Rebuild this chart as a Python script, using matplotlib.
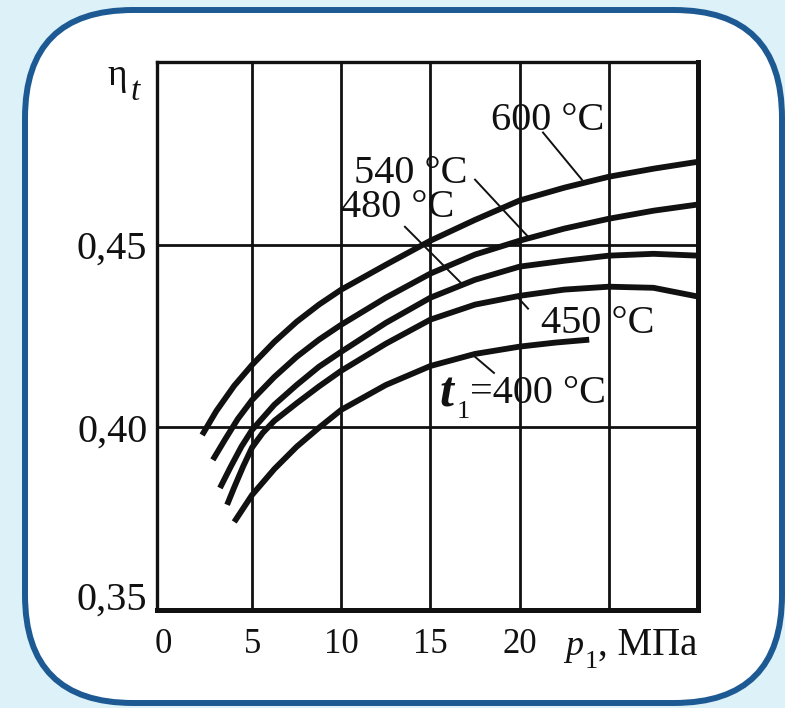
import matplotlib.pyplot as plt
from matplotlib.patches import FancyBboxPatch

plt.rcParams['font.family'] = ['Liberation Serif', 'DejaVu Serif']

# thermal efficiency vs initial pressure
p_600 = [2.2, 3, 4, 5, 6.25, 7.5, 8.75, 10, 12.5, 15, 17.5, 20, 22.5, 25,
         27.5, 30]
eta_600 = [0.3979, 0.4045, 0.4114, 0.4171, 0.4234, 0.4289, 0.4336, 0.4377,
           0.4445, 0.4511, 0.4568, 0.4621, 0.4656, 0.4686, 0.4708, 0.4727]

p_540 = [2.8, 3.5, 4.2, 5, 6.25, 7.5, 8.75, 10, 12.5, 15, 17.5, 20, 22.5, 25,
         27.5, 30]
eta_540 = [0.3911, 0.3968, 0.4023, 0.4075, 0.4138, 0.4193, 0.4240, 0.4281,
           0.4355, 0.4421, 0.4473, 0.4511, 0.4544, 0.4571, 0.4593, 0.4610]

p_480 = [3.2, 3.8, 4.4, 5, 6.25, 7.5, 8.75, 10, 12.5, 15, 17.5, 20, 22.5, 25,
         27.5, 30]
eta_480 = [0.3834, 0.3892, 0.3947, 0.3993, 0.4062, 0.4116, 0.4166, 0.4207,
           0.4286, 0.4355, 0.4404, 0.4440, 0.4456, 0.4470, 0.4475, 0.4470]

p_450 = [3.6, 4.0, 4.5, 5, 5.6, 6.25, 7.5, 8.75, 10, 12.5, 15, 17.5, 20,
         22.5, 25, 27.5, 30]
eta_450 = [0.3788, 0.3836, 0.3893, 0.3945, 0.3985, 0.4018, 0.4066, 0.4112,
           0.4155, 0.4229, 0.4295, 0.4336, 0.4360, 0.4377, 0.4385, 0.4382,
           0.4358]

p_400 = [4.0, 5, 6.25, 7.5, 8.75, 10, 12.5, 15, 17.5, 20, 22, 23.9]
eta_400 = [0.3741, 0.3815, 0.3886, 0.3947, 0.3999, 0.4048, 0.4116, 0.4168,
           0.4201, 0.4221, 0.4232, 0.4240]

x_ticks = [0, 5, 10, 15, 20]
y_ticks = [0.35, 0.40, 0.45]
y_labels = ['0,35', '0,40', '0,45']
x_grid = [5, 10, 15, 20, 25]
y_grid = [0.40, 0.45]

BG = '#dcf1f8'
FRAME = '#1d5a93'
INK = '#111111'

fig = plt.figure(figsize=(7.85, 7.08), dpi=100, facecolor=BG)

# white rounded panel behind the chart
panel = FancyBboxPatch((0.25, 0.05), 7.57, 6.93,
                       boxstyle='round,pad=0,rounding_size=1.08',
                       transform=fig.dpi_scale_trans,
                       facecolor='white', edgecolor=FRAME, linewidth=4.3,
                       zorder=-1)
fig.add_artist(panel)

ax = fig.add_axes([0.200, 0.1384, 0.6892, 0.7740])
ax.set_xlim(-0.33, 30)
ax.set_ylim(0.35, 0.50)

for xv in x_grid:
    ax.axvline(xv, color=INK, lw=2.0, zorder=1)
for yv in y_grid:
    ax.axhline(yv, color=INK, lw=2.0, zorder=1)

for p, eta in [(p_600, eta_600), (p_540, eta_540), (p_480, eta_480),
               (p_450, eta_450), (p_400, eta_400)]:
    ax.plot(p, eta, color=INK, lw=4.2, solid_capstyle='butt',
            solid_joinstyle='round', zorder=3)

for s in ('left', 'top'):
    ax.spines[s].set_linewidth(2.4)
for s in ('right', 'bottom'):
    ax.spines[s].set_linewidth(3.6)
for s in ax.spines.values():
    s.set_color(INK)

ax.set_xticks(x_ticks)
ax.set_xticklabels([str(v) for v in x_ticks])
ax.set_yticks(y_ticks)
ax.set_yticklabels(y_labels)
ax.tick_params(axis='x', length=0, pad=13, labelsize=25, colors=INK)
ax.tick_params(axis='y', length=0, pad=7, labelsize=29, colors=INK)
ax.get_yticklabels()[0].set_verticalalignment('baseline')

# curve labels with leader lines
lab = dict(fontsize=29, color=INK, zorder=4)
ax.text(21.59, 0.4815, '600 °C', ha='center', va='baseline', **lab)
ax.text(13.91, 0.4670, '540 °C', ha='center', va='baseline', **lab)
ax.text(13.18, 0.4577, '480 °C', ha='center', va='baseline', **lab)
ax.text(24.39, 0.4259, '450 °C', ha='center', va='baseline', **lab)
ax.text(15.50, 0.4056, 't', ha='left', va='baseline', fontsize=36,
        fontweight='bold', fontstyle='italic', color=INK)
ax.text(16.48, 0.4026, '1', ha='left', va='baseline', fontsize=19, color=INK)
ax.text(17.22, 0.4067, '=400 °C', ha='left', va='baseline', **lab)

leaders = [((21.31, 23.49), (0.4807, 0.4678)),
           ((17.50, 20.47), (0.4678, 0.4522)),
           ((13.57, 16.82), (0.4549, 0.4390)),
           ((19.91, 20.47), (0.4355, 0.4325)),
           ((17.50, 18.56), (0.4193, 0.4149))]
for xs, ys in leaders:
    ax.plot(xs, ys, color=INK, lw=1.4, zorder=2)

# axis titles
ax.text(-2.57, 0.4938, 'η', ha='center', va='baseline', fontsize=27, color=INK)
ax.text(-1.84, 0.4897, 't', ha='left', va='baseline', fontsize=24,
        fontstyle='italic', color=INK)
ax.text(22.54, 0.3377, 'p', ha='left', va='baseline', fontsize=26,
        fontstyle='italic', color=INK)
ax.text(23.66, 0.3341, '1', ha='left', va='baseline', fontsize=19, color=INK)
ax.text(24.40, 0.3377, ', МПа', ha='left', va='baseline', fontsize=28,
        color=INK)

fig.savefig('out.png', dpi=100, facecolor=BG)
